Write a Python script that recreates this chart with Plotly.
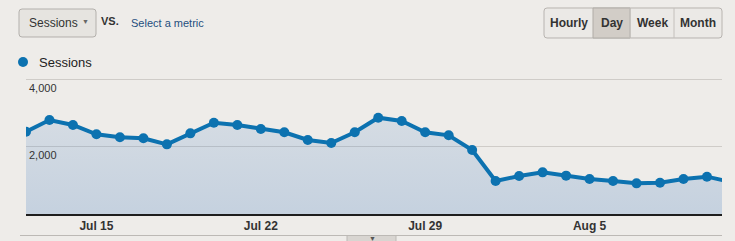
import plotly.graph_objects as go
from datetime import date, timedelta, datetime

# ---- data ----
start = date(2014, 7, 12)
dates = [(start + timedelta(days=i)).isoformat() for i in range(31)]
sessions = [2439, 2785, 2637, 2361, 2272, 2242, 2064, 2390, 2706, 2637,
            2519, 2420, 2193, 2104, 2420, 2854, 2756, 2420, 2331, 1896,
            978, 1126, 1234, 1136, 1037, 978, 908, 928, 1037, 1106, 954]
tick_dates = ["2014-07-15", "2014-07-22", "2014-07-29", "2014-08-05"]
tick_labels = ["Jul 15", "Jul 22", "Jul 29", "Aug 5"]
y_ticks = [2000, 4000]
y_tick_labels = ["2,000", "4,000"]
series_name = "Sessions"
buttons = ["Hourly", "Day", "Week", "Month"]

W, H = 735, 241
L, R, T, B = 26, 722, 77, 214
FONT = "Liberation Sans, Arial, Helvetica, sans-serif"
BLUE = "#0c72b0"
BG = "#eeece9"

def px(x):
    return (x - L) / (R - L)

def py(y):
    return (B - y) / (B - T)

def rounded(x0, y0, x1, y1, r):
    # rounded rectangle path in paper coords from pixel box
    pts = []
    def P(x, y):
        return "%f,%f" % (px(x), py(y))
    return ("M" + P(x0 + r, y0) + " L" + P(x1 - r, y0) +
            " Q" + P(x1, y0) + " " + P(x1, y0 + r) +
            " L" + P(x1, y1 - r) + " Q" + P(x1, y1) + " " + P(x1 - r, y1) +
            " L" + P(x0 + r, y1) + " Q" + P(x0, y1) + " " + P(x0, y1 - r) +
            " L" + P(x0, y0 + r) + " Q" + P(x0, y0) + " " + P(x0 + r, y0) + " Z")

x_end = datetime(2014, 7, 12) + timedelta(days=29.64)
y_top = 4000 * (B - T) / (B - 79)

fig = go.Figure()
fig.add_trace(go.Scatter(
    x=dates, y=sessions, mode="lines+markers", name=series_name,
    line=dict(color=BLUE, width=4),
    marker=dict(color=BLUE, size=10),
    fill="tozeroy",
    fillgradient=dict(type="vertical",
                      colorscale=[[0, "rgba(60,120,190,0.23)"],
                                  [1, "rgba(60,120,190,0.14)"]]),
    showlegend=False, cliponaxis=True,
))

shapes = []
ann = []

# header dropdown
shapes.append(dict(type="path", xref="paper", yref="paper",
                   path=rounded(19, 9, 96, 37, 3),
                   line=dict(color="#b3b0ac", width=1), fillcolor="#e6e4e0", layer="above"))
ann.append(dict(text="Sessions", x=px(27), y=py(23), xref="paper", yref="paper",
                xanchor="left", yanchor="middle", showarrow=False,
                font=dict(family=FONT, size=12, color="#333")))
ann.append(dict(text="▼", x=px(85), y=py(22), xref="paper", yref="paper",
                xanchor="center", yanchor="middle", showarrow=False,
                font=dict(family=FONT, size=7, color="#666")))
ann.append(dict(text="<b>VS.</b>", x=px(99), y=py(21), xref="paper", yref="paper",
                xanchor="left", yanchor="middle", showarrow=False,
                font=dict(family=FONT, size=11, color="#333")))
ann.append(dict(text="Select a metric", x=px(129), y=py(23), xref="paper", yref="paper",
                xanchor="left", yanchor="middle", showarrow=False,
                font=dict(family=FONT, size=11, color="#1f4f7e")))

# buttons
edges = [544, 593, 630, 674, 722]
shapes.append(dict(type="path", xref="paper", yref="paper",
                   path=rounded(edges[0], 8, edges[-1], 38, 3),
                   line=dict(color="#b8b4b0", width=1), fillcolor="#ebe9e6", layer="above"))
for i, b in enumerate(buttons):
    if b == "Day":
        shapes.append(dict(type="rect", xref="paper", yref="paper",
                           x0=px(edges[i]), x1=px(edges[i + 1]), y0=py(38), y1=py(8),
                           line=dict(color="#b0aca7", width=1), fillcolor="#d2cdc7",
                           layer="above"))
    elif i > 0:
        shapes.append(dict(type="line", xref="paper", yref="paper",
                           x0=px(edges[i]), x1=px(edges[i]), y0=py(38), y1=py(8),
                           line=dict(color="#c4c0bc", width=1), layer="above"))
    ann.append(dict(text="<b>%s</b>" % b, x=px((edges[i] + edges[i + 1]) / 2), y=py(23),
                    xref="paper", yref="paper", xanchor="center", yanchor="middle",
                    showarrow=False, font=dict(family=FONT, size=12, color="#333")))

# legend
shapes.append(dict(type="circle", xref="paper", yref="paper",
                   x0=px(18), x1=px(28), y0=py(67), y1=py(57),
                   line=dict(width=0), fillcolor=BLUE, layer="above"))
ann.append(dict(text=series_name, x=px(37), y=py(62), xref="paper", yref="paper",
                xanchor="left", yanchor="middle", showarrow=False,
                font=dict(family=FONT, size=13, color="#222")))

# bottom separator & tab
shapes.append(dict(type="line", xref="paper", yref="paper",
                   x0=px(20), x1=px(722), y0=py(235.5), y1=py(235.5),
                   line=dict(color="#bcb9b5", width=1), layer="above"))
shapes.append(dict(type="rect", xref="paper", yref="paper",
                   x0=px(347), x1=px(396), y0=py(242), y1=py(235.5),
                   line=dict(color="#bcb9b5", width=1), fillcolor="#d8d5d1", layer="above"))
ann.append(dict(text="▼", x=px(372), y=py(238.5), xref="paper", yref="paper",
                xanchor="center", yanchor="middle", showarrow=False,
                font=dict(family=FONT, size=7, color="#555")))

fig.update_layout(
    width=W, height=H,
    margin=dict(l=L, r=W - R, t=T, b=H - B, pad=0, autoexpand=False),
    paper_bgcolor=BG, plot_bgcolor=BG,
    shapes=shapes, annotations=ann,
    xaxis=dict(type="date", range=["2014-07-12", x_end.isoformat()],
               tickvals=tick_dates, ticktext=tick_labels,
               showgrid=False, zeroline=False, automargin=False,
               showline=True, linecolor="#1e1e1e", linewidth=1.5,
               ticks="", ticklabelstandoff=0,
               tickfont=dict(family=FONT, size=12, color="#333", weight="bold"),
               fixedrange=True),
    yaxis=dict(range=[0, y_top], tickvals=y_ticks, ticktext=y_tick_labels,
               showgrid=True, gridcolor="#cfccc8", gridwidth=1,
               zeroline=False, showline=False, ticks="", automargin=False,
               ticklabelposition="inside", ticklabelshift=9,
               tickfont=dict(family=FONT, size=11, color="#333"),
               fixedrange=True),
)

fig.write_html("out.html")
